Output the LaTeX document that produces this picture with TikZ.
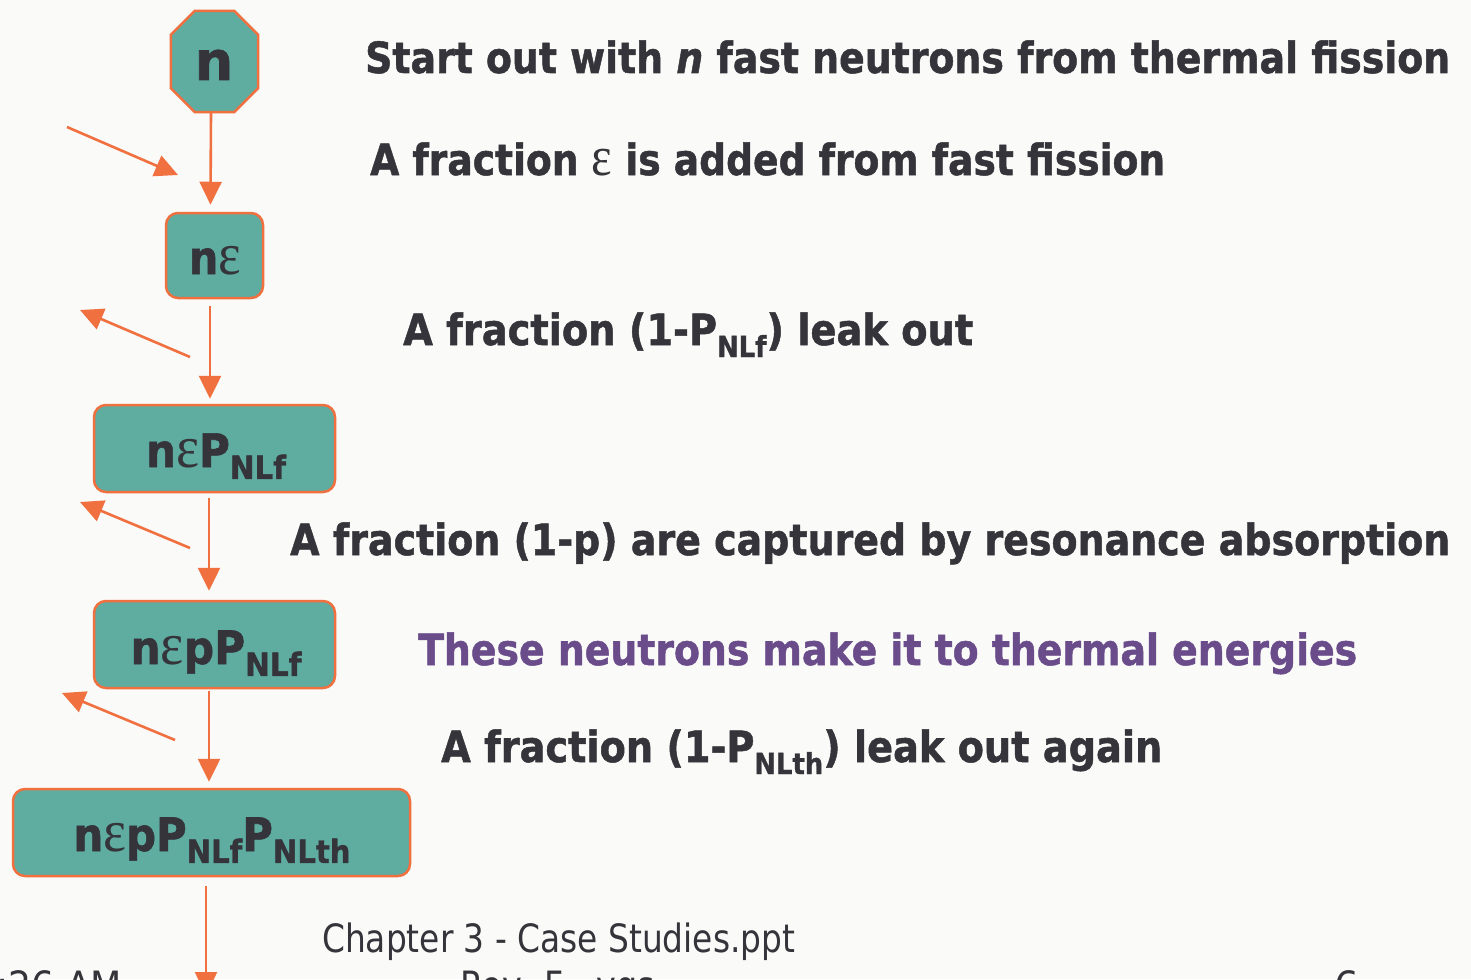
\documentclass[tikz,border=0pt]{standalone}
\usepackage{fontspec}
\setmainfont{DejaVu Sans}
\newfontfamily\heavy{DejaVu Sans Bold}[FakeBold=1.2]
\newfontfamily\heavyit{DejaVu Sans Bold Oblique}[FakeBold=1.2]
\newfontfamily\epsfont{Liberation Serif}
\usetikzlibrary{arrows.meta,calc}
\definecolor{bg}{RGB}{250,250,248}
\definecolor{teal}{RGB}{95,172,161}
\definecolor{orng}{RGB}{240,112,64}
\definecolor{ink}{RGB}{52,52,58}
\definecolor{purp}{RGB}{106,76,138}
\newcommand\eps{\scalebox{1.3}{\epsfont ε}}
\newcommand\sbs[1]{\raisebox{-0.28em}{\fontsize{29}{29}\selectfont #1}}
\newcommand\bsub[1]{\raisebox{-0.26em}{\fontsize{32}{32}\selectfont #1}}
\newcommand\fitw[2]{\resizebox{#1}{\height}{#2}}
\tikzset{
  box/.style={draw=orng, fill=teal, line width=2.5pt, rounded corners=12pt, inner sep=0pt},
  blab/.style={text=ink, font=\fontsize{46}{46}\heavy, inner sep=0pt, anchor=base},
  arr/.style={draw=orng, line width=2.6pt, -{Triangle[length=23pt,width=22pt]}},
  txt/.style={anchor=base west, inner sep=0pt, text=ink, font=\fontsize{43}{43}\heavy},
  foot/.style={anchor=base west, inner sep=0pt, text=ink, font=\fontsize{39}{39}\selectfont},
}
\begin{document}
\begin{tikzpicture}[x=1pt,y=-1pt]
\useasboundingbox (0,0) rectangle (1471,979);
\fill[bg] (0,0) rectangle (1471,979);
\clip (0,0) rectangle (1471,979);

% octagon
\node[inner sep=0pt, minimum width=87pt, minimum height=101pt] (n) at (214.5,61.5) {};
\filldraw[draw=orng, fill=teal, line width=2.5pt]
  ($(n.north west)+(24,0)$) -- ($(n.north east)+(-24,0)$) -- ($(n.north east)+(0,24)$)
  -- ($(n.south east)+(0,-24)$) -- ($(n.south east)+(-24,0)$) -- ($(n.south west)+(24,0)$)
  -- ($(n.south west)+(0,-24)$) -- ($(n.north west)+(0,24)$) -- cycle;
\node[blab, font=\fontsize{54}{54}\heavy] (nlab) at (214,80) {n};

% boxes
\node[box, minimum width=97pt, minimum height=85pt] (ne) at (214.5,255.5) {};
\node[blab] (nelab) at (215,274) {\fitw{52pt}{n\eps}};
\node[box, minimum width=241pt, minimum height=87pt] (nep) at (214.5,448.5) {};
\node[blab] (neplab) at (216,467) {\fitw{140pt}{n\eps P\bsub{NLf}}};
\node[box, minimum width=241pt, minimum height=87pt] (nepp) at (214.5,644.5) {};
\node[blab] (nepplab) at (216,664) {\fitw{171pt}{n\eps pP\bsub{NLf}}};
\node[box, minimum width=397pt, minimum height=87pt] (fin) at (211.5,832.5) {};
\node[blab] (finlab) at (212,851) {\fitw{277pt}{n\eps pP\bsub{NLf}P\bsub{NLth}}};

% main arrows
\coordinate (out) at (206,995);
\draw[arr] ([xshift=-3.5pt]n.south) -- ([xshift=-4pt,yshift=7pt]ne.north);
\draw[arr] ([xshift=-4.5pt,yshift=-7pt]ne.south) -- ([xshift=-4.5pt,yshift=5pt]nep.north);
\draw[arr] ([xshift=-5.5pt,yshift=-5pt]nep.south) -- ([xshift=-5.5pt,yshift=9pt]nepp.north);
\draw[arr] ([xshift=-5.5pt,yshift=-2pt]nepp.south) -- ([xshift=-2.5pt,yshift=6pt]fin.north);
\draw[arr] ([xshift=-5.5pt,yshift=-9pt]fin.south) -- (out);

% side arrows
\coordinate (a1s) at (67,127);  \coordinate (a1e) at (178,175);
\coordinate (a2s) at (190,357); \coordinate (a2e) at (80,310);
\coordinate (a3s) at (190,548); \coordinate (a3e) at (80,502);
\coordinate (a4s) at (175,740); \coordinate (a4e) at (62,693);
\draw[arr] (a1s) -- (a1e);
\draw[arr] (a2s) -- (a2e);
\draw[arr] (a3s) -- (a3e);
\draw[arr] (a4s) -- (a4e);

% texts
\node[txt] (t1) at (365,73) {\fitw{1085pt}{Start out with {\heavyit n} fast neutrons from thermal fission}};
\node[txt] (t2) at (370,175) {\fitw{795pt}{A fraction \eps{} is added from fast fission}};
\node[txt] (t3) at (403,345) {\fitw{570pt}{A fraction (1-P\sbs{NLf}) leak out}};
\node[txt] (t4) at (290,555) {\fitw{1160pt}{A fraction (1-p) are captured by resonance absorption}};
\node[txt, text=purp] (t5) at (418,665) {\fitw{939pt}{These neutrons make it to thermal energies}};
\node[txt] (t6) at (441,762) {\fitw{721pt}{A fraction (1-P\sbs{NLth}) leak out again}};

% footer
\node[foot] (f1) at (322,952) {\fitw{473pt}{Chapter 3 - Case Studies.ppt}};
\node[foot] (f2) at (-4,999) {\fitw{126pt}{:26 AM}};
\node[foot] (f3) at (460,999) {\fitw{195pt}{Rev. F - vgs}};
\node[foot] (f4) at (1334,999) {6};
\end{tikzpicture}
\end{document}
